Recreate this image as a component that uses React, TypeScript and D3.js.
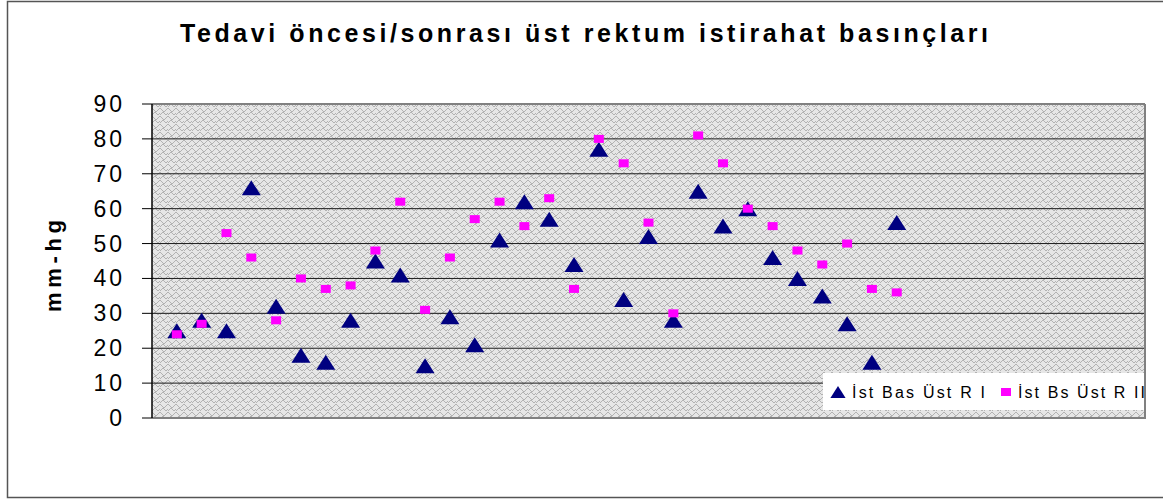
import React from "react";
import * as d3 from "d3";

const width = 1163;
const height = 500;
const plot = { left: 152, right: 1145, top: 104, bottom: 418 };

const title = "Tedavi öncesi/sonrası üst rektum istirahat basınçları";
const yLabel = "mm-hg";
const seriesNames = ["İst Bas Üst R I", "İst Bs Üst R II"];
const patients = d3.range(1, 31);
const basBefore = [25, 28, 25, 66, 32, 18, 16, 28, 45, 41, 15, 29, 21, 51, 62, 57, 44, 77, 34, 52, 28, 65, 55, 60, 46, 40, 35, 27, 16, 56];
const basAfter = [24, 27, 53, 46, 28, 40, 37, 38, 48, 62, 31, 46, 57, 62, 55, 63, 37, 80, 73, 56, 30, 81, 73, 60, 55, 48, 44, 50, 37, 36];
const yTicks = [0, 10, 20, 30, 40, 50, 60, 70, 80, 90];

const navy = "#000080";
const pink = "#ff00ff";
const font = "'Liberation Sans', Arial, sans-serif";

const triangle = "M0,-7.5L9.5,7.5L-9.5,7.5Z";

export default function App() {
  const x = d3.scaleLinear().domain([0, 40]).range([plot.left, plot.right]);
  const y = d3.scaleLinear().domain([0, 90]).range([plot.bottom, plot.top]);

  return (
    <svg width={width} height={height} style={{ position: "absolute", left: 0, top: 0, background: "#fff" }}>
      <defs>
        <pattern id="weave" width={8} height={8} patternUnits="userSpaceOnUse">
          <rect width={8} height={8} fill="#e6e6e6" />
          <path d="M0,3L3,0M3,0L6,3M4,8L8,4M0,4L4,8M6,3L8,1" stroke="#adadad" strokeWidth={0.9} fill="none" />
        </pattern>
      </defs>

      <rect x={7.5} y={1.5} width={1160} height={496} fill="none" stroke="#555" strokeWidth={1.5} />

      <text x={584} y={42} textAnchor="middle" fontFamily={font} fontWeight="bold" fontSize={25}
        textLength={808} lengthAdjust="spacing">{title}</text>

      <rect x={plot.left} y={plot.top} width={plot.right - plot.left} height={plot.bottom - plot.top} fill="url(#weave)" />

      {yTicks.map(t => (
        <g key={t}>
          {t > 0 && t < 90 && (
            <line x1={plot.left} x2={plot.right} y1={y(t)} y2={y(t)} stroke="#1a1a1a" strokeWidth={1} />
          )}
          <line x1={142} x2={plot.left} y1={y(t)} y2={y(t)} stroke="#000" strokeWidth={1} />
          <text x={125} y={y(t)} textAnchor="end" dominantBaseline="central" fontFamily={font}
            fontSize={23} letterSpacing={3}>{t}</text>
        </g>
      ))}

      <line x1={plot.left} x2={plot.right} y1={y(90)} y2={y(90)} stroke="#808080" strokeWidth={2} />
      <line x1={plot.left} x2={plot.right} y1={y(0)} y2={y(0)} stroke="#808080" strokeWidth={2} />
      <line x1={plot.right} x2={plot.right} y1={y(90)} y2={y(0) + 1} stroke="#808080" strokeWidth={2} />
      <line x1={plot.left} x2={plot.left} y1={y(90)} y2={y(0)} stroke="#000" strokeWidth={1.5} />

      <text transform="translate(53,266) rotate(-90)" textAnchor="middle" dominantBaseline="central"
        fontFamily={font} fontWeight="bold" fontSize={22} textLength={92} lengthAdjust="spacing">{yLabel}</text>

      {patients.map((p, i) => (
        <path key={"a" + p} d={triangle} transform={`translate(${x(p)},${y(basBefore[i])})`} fill={navy} />
      ))}
      {patients.map((p, i) => (
        <rect key={"b" + p} x={x(p) - 5} y={y(basAfter[i]) - 4} width={10} height={8} fill={pink} />
      ))}

      <g>
        <rect x={823} y={373} width={plot.right - 1 - 823} height={37} fill="#fff" />
        <path d={triangle} transform="translate(838,392) scale(0.8)" fill={navy} />
        <text x={852} y={398} fontFamily={font} fontSize={16} textLength={133} lengthAdjust="spacing">{seriesNames[0]}</text>
        <rect x={1001} y={388} width={10} height={8} fill={pink} />
        <text x={1018} y={398} fontFamily={font} fontSize={16} textLength={127} lengthAdjust="spacing">{seriesNames[1]}</text>
      </g>
    </svg>
  );
}
